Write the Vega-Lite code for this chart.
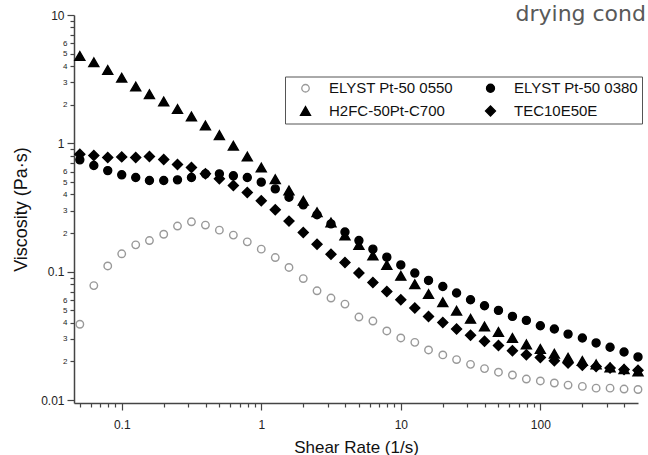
{
  "$schema": "https://vega.github.io/schema/vega-lite/v6.json",
  "width": 564,
  "height": 388,
  "autosize": {"type": "none"},
  "padding": {"left": 74, "top": 15, "right": 10, "bottom": 52},
  "background": "white",
  "title": {"text": "drying cond", "anchor": "end", "frame": "group", "orient": "top", "font": "DejaVu Sans", "fontSize": 22, "fontWeight": "normal", "color": "#595959", "baseline": "alphabetic", "offset": -34, "dx": 8},
  "config": {
    "view": {"stroke": null},
    "font": "Liberation Sans",
    "legend": {
      "orient": "none", "legendX": 211, "legendY": 61.5, "columns": 2, "direction": "horizontal",
      "strokeColor": "#555", "fillColor": "white", "padding": 4, "labelFont": "Liberation Sans", "labelFontSize": 15,
      "labelColor": "#111", "labelOffset": 16, "symbolOffset": 9, "columnPadding": 21, "rowPadding": 6, "symbolStrokeWidth": 1.3
    }
  },
  "data": {"values": [
    {"rate":0.0501,"visc":0.039,"series":"ELYST Pt-50 0550"},
    {"rate":0.0631,"visc":0.078,"series":"ELYST Pt-50 0550"},
    {"rate":0.0794,"visc":0.111,"series":"ELYST Pt-50 0550"},
    {"rate":0.1,"visc":0.138,"series":"ELYST Pt-50 0550"},
    {"rate":0.126,"visc":0.162,"series":"ELYST Pt-50 0550"},
    {"rate":0.158,"visc":0.175,"series":"ELYST Pt-50 0550"},
    {"rate":0.2,"visc":0.196,"series":"ELYST Pt-50 0550"},
    {"rate":0.251,"visc":0.227,"series":"ELYST Pt-50 0550"},
    {"rate":0.316,"visc":0.245,"series":"ELYST Pt-50 0550"},
    {"rate":0.398,"visc":0.231,"series":"ELYST Pt-50 0550"},
    {"rate":0.501,"visc":0.211,"series":"ELYST Pt-50 0550"},
    {"rate":0.631,"visc":0.193,"series":"ELYST Pt-50 0550"},
    {"rate":0.794,"visc":0.171,"series":"ELYST Pt-50 0550"},
    {"rate":1,"visc":0.150,"series":"ELYST Pt-50 0550"},
    {"rate":1.26,"visc":0.129,"series":"ELYST Pt-50 0550"},
    {"rate":1.58,"visc":0.108,"series":"ELYST Pt-50 0550"},
    {"rate":2,"visc":0.0885,"series":"ELYST Pt-50 0550"},
    {"rate":2.51,"visc":0.0711,"series":"ELYST Pt-50 0550"},
    {"rate":3.16,"visc":0.0624,"series":"ELYST Pt-50 0550"},
    {"rate":3.98,"visc":0.056,"series":"ELYST Pt-50 0550"},
    {"rate":5.01,"visc":0.0444,"series":"ELYST Pt-50 0550"},
    {"rate":6.31,"visc":0.0413,"series":"ELYST Pt-50 0550"},
    {"rate":7.94,"visc":0.0346,"series":"ELYST Pt-50 0550"},
    {"rate":10,"visc":0.0305,"series":"ELYST Pt-50 0550"},
    {"rate":12.6,"visc":0.0282,"series":"ELYST Pt-50 0550"},
    {"rate":15.8,"visc":0.0246,"series":"ELYST Pt-50 0550"},
    {"rate":20,"visc":0.0225,"series":"ELYST Pt-50 0550"},
    {"rate":25.1,"visc":0.0207,"series":"ELYST Pt-50 0550"},
    {"rate":31.6,"visc":0.019,"series":"ELYST Pt-50 0550"},
    {"rate":39.8,"visc":0.0176,"series":"ELYST Pt-50 0550"},
    {"rate":50.1,"visc":0.0165,"series":"ELYST Pt-50 0550"},
    {"rate":63.1,"visc":0.0157,"series":"ELYST Pt-50 0550"},
    {"rate":79.4,"visc":0.0146,"series":"ELYST Pt-50 0550"},
    {"rate":100,"visc":0.0141,"series":"ELYST Pt-50 0550"},
    {"rate":126,"visc":0.0136,"series":"ELYST Pt-50 0550"},
    {"rate":158,"visc":0.0131,"series":"ELYST Pt-50 0550"},
    {"rate":200,"visc":0.0128,"series":"ELYST Pt-50 0550"},
    {"rate":251,"visc":0.0124,"series":"ELYST Pt-50 0550"},
    {"rate":316,"visc":0.0124,"series":"ELYST Pt-50 0550"},
    {"rate":398,"visc":0.0122,"series":"ELYST Pt-50 0550"},
    {"rate":501,"visc":0.0121,"series":"ELYST Pt-50 0550"},
    {"rate":0.0501,"visc":0.744,"series":"ELYST Pt-50 0380"},
    {"rate":0.0631,"visc":0.672,"series":"ELYST Pt-50 0380"},
    {"rate":0.0794,"visc":0.614,"series":"ELYST Pt-50 0380"},
    {"rate":0.1,"visc":0.569,"series":"ELYST Pt-50 0380"},
    {"rate":0.126,"visc":0.542,"series":"ELYST Pt-50 0380"},
    {"rate":0.158,"visc":0.514,"series":"ELYST Pt-50 0380"},
    {"rate":0.2,"visc":0.514,"series":"ELYST Pt-50 0380"},
    {"rate":0.251,"visc":0.520,"series":"ELYST Pt-50 0380"},
    {"rate":0.316,"visc":0.542,"series":"ELYST Pt-50 0380"},
    {"rate":0.398,"visc":0.579,"series":"ELYST Pt-50 0380"},
    {"rate":0.501,"visc":0.579,"series":"ELYST Pt-50 0380"},
    {"rate":0.631,"visc":0.559,"series":"ELYST Pt-50 0380"},
    {"rate":0.794,"visc":0.542,"series":"ELYST Pt-50 0380"},
    {"rate":1,"visc":0.499,"series":"ELYST Pt-50 0380"},
    {"rate":1.26,"visc":0.442,"series":"ELYST Pt-50 0380"},
    {"rate":1.58,"visc":0.381,"series":"ELYST Pt-50 0380"},
    {"rate":2,"visc":0.332,"series":"ELYST Pt-50 0380"},
    {"rate":2.51,"visc":0.278,"series":"ELYST Pt-50 0380"},
    {"rate":3.16,"visc":0.236,"series":"ELYST Pt-50 0380"},
    {"rate":3.98,"visc":0.204,"series":"ELYST Pt-50 0380"},
    {"rate":5.01,"visc":0.175,"series":"ELYST Pt-50 0380"},
    {"rate":6.31,"visc":0.150,"series":"ELYST Pt-50 0380"},
    {"rate":7.94,"visc":0.130,"series":"ELYST Pt-50 0380"},
    {"rate":10,"visc":0.113,"series":"ELYST Pt-50 0380"},
    {"rate":12.6,"visc":0.0977,"series":"ELYST Pt-50 0380"},
    {"rate":15.8,"visc":0.0856,"series":"ELYST Pt-50 0380"},
    {"rate":20,"visc":0.0768,"series":"ELYST Pt-50 0380"},
    {"rate":25.1,"visc":0.0683,"series":"ELYST Pt-50 0380"},
    {"rate":31.6,"visc":0.0605,"series":"ELYST Pt-50 0380"},
    {"rate":39.8,"visc":0.0544,"series":"ELYST Pt-50 0380"},
    {"rate":50.1,"visc":0.050,"series":"ELYST Pt-50 0380"},
    {"rate":63.1,"visc":0.0449,"series":"ELYST Pt-50 0380"},
    {"rate":79.4,"visc":0.0418,"series":"ELYST Pt-50 0380"},
    {"rate":100,"visc":0.038,"series":"ELYST Pt-50 0380"},
    {"rate":126,"visc":0.0358,"series":"ELYST Pt-50 0380"},
    {"rate":158,"visc":0.0327,"series":"ELYST Pt-50 0380"},
    {"rate":200,"visc":0.0305,"series":"ELYST Pt-50 0380"},
    {"rate":251,"visc":0.0279,"series":"ELYST Pt-50 0380"},
    {"rate":316,"visc":0.0258,"series":"ELYST Pt-50 0380"},
    {"rate":398,"visc":0.0237,"series":"ELYST Pt-50 0380"},
    {"rate":501,"visc":0.0217,"series":"ELYST Pt-50 0380"},
    {"rate":0.0501,"visc":4.80,"series":"H2FC-50Pt-C700"},
    {"rate":0.0631,"visc":4.28,"series":"H2FC-50Pt-C700"},
    {"rate":0.0794,"visc":3.73,"series":"H2FC-50Pt-C700"},
    {"rate":0.1,"visc":3.25,"series":"H2FC-50Pt-C700"},
    {"rate":0.126,"visc":2.77,"series":"H2FC-50Pt-C700"},
    {"rate":0.158,"visc":2.42,"series":"H2FC-50Pt-C700"},
    {"rate":0.2,"visc":2.12,"series":"H2FC-50Pt-C700"},
    {"rate":0.251,"visc":1.85,"series":"H2FC-50Pt-C700"},
    {"rate":0.316,"visc":1.62,"series":"H2FC-50Pt-C700"},
    {"rate":0.398,"visc":1.38,"series":"H2FC-50Pt-C700"},
    {"rate":0.501,"visc":1.16,"series":"H2FC-50Pt-C700"},
    {"rate":0.631,"visc":0.96,"series":"H2FC-50Pt-C700"},
    {"rate":0.794,"visc":0.789,"series":"H2FC-50Pt-C700"},
    {"rate":1,"visc":0.648,"series":"H2FC-50Pt-C700"},
    {"rate":1.26,"visc":0.526,"series":"H2FC-50Pt-C700"},
    {"rate":1.58,"visc":0.43,"series":"H2FC-50Pt-C700"},
    {"rate":2,"visc":0.357,"series":"H2FC-50Pt-C700"},
    {"rate":2.51,"visc":0.291,"series":"H2FC-50Pt-C700"},
    {"rate":3.16,"visc":0.242,"series":"H2FC-50Pt-C700"},
    {"rate":3.98,"visc":0.192,"series":"H2FC-50Pt-C700"},
    {"rate":5.01,"visc":0.162,"series":"H2FC-50Pt-C700"},
    {"rate":6.31,"visc":0.134,"series":"H2FC-50Pt-C700"},
    {"rate":7.94,"visc":0.113,"series":"H2FC-50Pt-C700"},
    {"rate":10,"visc":0.093,"series":"H2FC-50Pt-C700"},
    {"rate":12.6,"visc":0.080,"series":"H2FC-50Pt-C700"},
    {"rate":15.8,"visc":0.067,"series":"H2FC-50Pt-C700"},
    {"rate":20,"visc":0.058,"series":"H2FC-50Pt-C700"},
    {"rate":25.1,"visc":0.0497,"series":"H2FC-50Pt-C700"},
    {"rate":31.6,"visc":0.043,"series":"H2FC-50Pt-C700"},
    {"rate":39.8,"visc":0.0375,"series":"H2FC-50Pt-C700"},
    {"rate":50.1,"visc":0.034,"series":"H2FC-50Pt-C700"},
    {"rate":63.1,"visc":0.0305,"series":"H2FC-50Pt-C700"},
    {"rate":79.4,"visc":0.0272,"series":"H2FC-50Pt-C700"},
    {"rate":100,"visc":0.025,"series":"H2FC-50Pt-C700"},
    {"rate":126,"visc":0.023,"series":"H2FC-50Pt-C700"},
    {"rate":158,"visc":0.0214,"series":"H2FC-50Pt-C700"},
    {"rate":200,"visc":0.0202,"series":"H2FC-50Pt-C700"},
    {"rate":251,"visc":0.019,"series":"H2FC-50Pt-C700"},
    {"rate":316,"visc":0.018,"series":"H2FC-50Pt-C700"},
    {"rate":398,"visc":0.0174,"series":"H2FC-50Pt-C700"},
    {"rate":501,"visc":0.0167,"series":"H2FC-50Pt-C700"},
    {"rate":0.0501,"visc":0.824,"series":"TEC10E50E"},
    {"rate":0.0631,"visc":0.804,"series":"TEC10E50E"},
    {"rate":0.0794,"visc":0.775,"series":"TEC10E50E"},
    {"rate":0.1,"visc":0.785,"series":"TEC10E50E"},
    {"rate":0.126,"visc":0.775,"series":"TEC10E50E"},
    {"rate":0.158,"visc":0.79,"series":"TEC10E50E"},
    {"rate":0.2,"visc":0.748,"series":"TEC10E50E"},
    {"rate":0.251,"visc":0.684,"series":"TEC10E50E"},
    {"rate":0.316,"visc":0.648,"series":"TEC10E50E"},
    {"rate":0.398,"visc":0.579,"series":"TEC10E50E"},
    {"rate":0.501,"visc":0.530,"series":"TEC10E50E"},
    {"rate":0.631,"visc":0.470,"series":"TEC10E50E"},
    {"rate":0.794,"visc":0.414,"series":"TEC10E50E"},
    {"rate":1,"visc":0.357,"series":"TEC10E50E"},
    {"rate":1.26,"visc":0.304,"series":"TEC10E50E"},
    {"rate":1.58,"visc":0.248,"series":"TEC10E50E"},
    {"rate":2,"visc":0.202,"series":"TEC10E50E"},
    {"rate":2.51,"visc":0.164,"series":"TEC10E50E"},
    {"rate":3.16,"visc":0.137,"series":"TEC10E50E"},
    {"rate":3.98,"visc":0.118,"series":"TEC10E50E"},
    {"rate":5.01,"visc":0.0977,"series":"TEC10E50E"},
    {"rate":6.31,"visc":0.0826,"series":"TEC10E50E"},
    {"rate":7.94,"visc":0.0703,"series":"TEC10E50E"},
    {"rate":10,"visc":0.0605,"series":"TEC10E50E"},
    {"rate":12.6,"visc":0.0522,"series":"TEC10E50E"},
    {"rate":15.8,"visc":0.0449,"series":"TEC10E50E"},
    {"rate":20,"visc":0.0403,"series":"TEC10E50E"},
    {"rate":25.1,"visc":0.0358,"series":"TEC10E50E"},
    {"rate":31.6,"visc":0.032,"series":"TEC10E50E"},
    {"rate":39.8,"visc":0.0287,"series":"TEC10E50E"},
    {"rate":50.1,"visc":0.0266,"series":"TEC10E50E"},
    {"rate":63.1,"visc":0.0243,"series":"TEC10E50E"},
    {"rate":79.4,"visc":0.0226,"series":"TEC10E50E"},
    {"rate":100,"visc":0.0215,"series":"TEC10E50E"},
    {"rate":126,"visc":0.0203,"series":"TEC10E50E"},
    {"rate":158,"visc":0.0195,"series":"TEC10E50E"},
    {"rate":200,"visc":0.0187,"series":"TEC10E50E"},
    {"rate":251,"visc":0.0183,"series":"TEC10E50E"},
    {"rate":316,"visc":0.0178,"series":"TEC10E50E"},
    {"rate":398,"visc":0.0173,"series":"TEC10E50E"},
    {"rate":501,"visc":0.0171,"series":"TEC10E50E"}
  ]},
  "mark": {"type": "point", "strokeWidth": 1.4, "opacity": 1},
  "encoding": {
    "x": {
      "field": "rate", "type": "quantitative", "title": "Shear Rate (1/s)",
      "scale": {"type": "log", "domain": [0.0455, 501], "nice": false},
      "axis": {
        "values": [0.05,0.06,0.07,0.08,0.09,0.1,0.2,0.3,0.4,0.5,0.6,0.7,0.8,0.9,1,2,3,4,5,6,7,8,9,10,20,30,40,50,60,70,80,90,100,200,300,400],
        "labelExpr": "abs(log(datum.value)/LN10 - round(log(datum.value)/LN10)) < 0.001 ? format(datum.value, '~g') : ''",
        "tickSize": {"condition": {"test": "abs(log(datum.value)/LN10 - round(log(datum.value)/LN10)) < 0.001", "value": 7}, "value": 4},
        "grid": false, "labelOverlap": false, "labelFlush": false,
        "labelFontSize": 12, "labelColor": "#222", "labelPadding": 9,
        "domainColor": "#444", "domainWidth": 1.5, "tickColor": "#444", "tickWidth": 1.2,
        "titleFontSize": 17, "titleFontWeight": "normal", "titleColor": "#111", "titlePadding": 9
      }
    },
    "y": {
      "field": "visc", "type": "quantitative", "title": "Viscosity (Pa·s)",
      "scale": {"type": "log", "domain": [0.0095, 10], "nice": false},
      "axis": {
        "values": [0.01,0.02,0.03,0.04,0.05,0.06,0.07,0.08,0.09,0.1,0.2,0.3,0.4,0.5,0.6,0.7,0.8,0.9,1,2,3,4,5,6,7,8,9,10],
        "labelExpr": "abs(log(datum.value)/LN10 - round(log(datum.value)/LN10)) < 0.001 ? format(datum.value, '~g') : (round(datum.value / pow(10, floor(log(datum.value)/LN10 + 0.000001))) <= 6 ? format(round(datum.value / pow(10, floor(log(datum.value)/LN10 + 0.000001))), 'd') : '')",
        "tickSize": {"condition": {"test": "abs(log(datum.value)/LN10 - round(log(datum.value)/LN10)) < 0.001", "value": 7}, "value": 4},
        "labelFontSize": {"condition": {"test": "abs(log(datum.value)/LN10 - round(log(datum.value)/LN10)) < 0.001", "value": 12}, "value": 8},
        "grid": false, "labelOverlap": false, "labelFlush": false,
        "labelColor": "#222", "labelPadding": 3,
        "domainColor": "#444", "domainWidth": 1.5, "tickColor": "#444", "tickWidth": 1.2,
        "titleFontSize": 18, "titleFontWeight": "normal", "titleColor": "#111", "titlePadding": 10
      }
    },
    "shape": {"field": "series", "type": "nominal", "title": null,
      "scale": {"domain": ["ELYST Pt-50 0550", "ELYST Pt-50 0380", "H2FC-50Pt-C700", "TEC10E50E"], "range": ["circle", "circle", "triangle-up", "diamond"]}},
    "fill": {"field": "series", "type": "nominal", "title": null,
      "scale": {"domain": ["ELYST Pt-50 0550", "ELYST Pt-50 0380", "H2FC-50Pt-C700", "TEC10E50E"], "range": ["white", "black", "black", "black"]}},
    "stroke": {"field": "series", "type": "nominal", "title": null,
      "scale": {"domain": ["ELYST Pt-50 0550", "ELYST Pt-50 0380", "H2FC-50Pt-C700", "TEC10E50E"], "range": ["#999999", "black", "black", "black"]}},
    "size": {"field": "series", "type": "nominal", "title": null,
      "scale": {"type": "ordinal", "domain": ["ELYST Pt-50 0550", "ELYST Pt-50 0380", "H2FC-50Pt-C700", "TEC10E50E"], "range": [56, 64, 100, 100]}}
  }
}
